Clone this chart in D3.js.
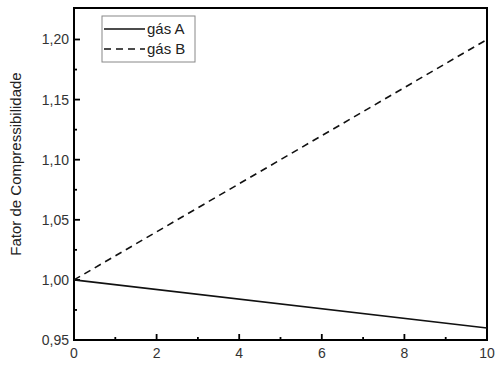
<!DOCTYPE html>
<html><head><meta charset="utf-8">
<script src="https://cdn.jsdelivr.net/npm/d3@7/dist/d3.min.js"></script>
<style>body{margin:0;background:#fff;} text{font-family:"Liberation Sans",Arial,sans-serif;}</style>
</head><body>
<script>
const xVals = [0, 10];
const gasA = [1.00, 0.96];
const gasB = [1.00, 1.20];
const seriesNames = ["gás A", "gás B"];
const xTicks = [0, 2, 4, 6, 8, 10];
const yTicks = [0.95, 1.00, 1.05, 1.10, 1.15, 1.20];
const yLabel = "Fator de Compressibilidade";

const W = 504, H = 367;
const L = 74, R = 487, T = 8, B = 340;
const svg = d3.select("body").append("svg").attr("width", W).attr("height", H);
const x = d3.scaleLinear().domain([0, 10]).range([L, R]);
const y = d3.scaleLinear().domain([0.95, 1.2262]).range([B, T]);
const fmt = d => d3.format(".2f")(d).replace(".", ",");

// minor ticks
const xMinor = d3.range(1, 10, 2);
const yMinor = d3.range(0, 5).map(i => 0.975 + i * 0.05);
const g = svg.append("g");
g.selectAll(".xmaj").data(xTicks).join("line")
  .attr("x1", d => x(d)).attr("x2", d => x(d)).attr("y1", B).attr("y2", B - 6)
  .attr("stroke", "#000").attr("stroke-width", 1.8);
g.selectAll(".xmin").data(xMinor).join("line")
  .attr("x1", d => x(d)).attr("x2", d => x(d)).attr("y1", B).attr("y2", B - 3)
  .attr("stroke", "#000").attr("stroke-width", 1.8);
g.selectAll(".ymaj").data(yTicks).join("line")
  .attr("x1", L).attr("x2", L + 6).attr("y1", d => y(d)).attr("y2", d => y(d))
  .attr("stroke", "#000").attr("stroke-width", 1.8);
g.selectAll(".ymin").data(yMinor).join("line")
  .attr("x1", L).attr("x2", L + 3).attr("y1", d => y(d)).attr("y2", d => y(d))
  .attr("stroke", "#000").attr("stroke-width", 1.8);

// frame
svg.append("rect").attr("x", L).attr("y", T).attr("width", R - L).attr("height", B - T)
  .attr("fill", "none").attr("stroke", "#000").attr("stroke-width", 2);

// tick labels
svg.selectAll(".xl").data(xTicks).join("text")
  .attr("x", d => x(d)).attr("y", B + 18).attr("text-anchor", "middle")
  .attr("font-size", 14).attr("fill", "#333").text(d => d);
svg.selectAll(".yl").data(yTicks).join("text")
  .attr("x", L - 5).attr("y", d => y(d) + 5).attr("text-anchor", "end")
  .attr("font-size", 14).attr("fill", "#333").text(fmt);

svg.append("text").attr("transform", `translate(21,${(T + B) / 2 - 10}) rotate(-90)`)
  .attr("text-anchor", "middle").attr("font-size", 15).attr("fill", "#222").text(yLabel);

const line = d3.line().x(d => x(d[0])).y(d => y(d[1]));
svg.append("path").datum(xVals.map((v, i) => [v, gasA[i]])).attr("d", line)
  .attr("fill", "none").attr("stroke", "#111").attr("stroke-width", 1.6);
svg.append("path").datum(xVals.map((v, i) => [v, gasB[i]])).attr("d", line)
  .attr("fill", "none").attr("stroke", "#111").attr("stroke-width", 1.6)
  .attr("stroke-dasharray", "7,5");

// legend
const lg = svg.append("g");
lg.append("rect").attr("x", 102).attr("y", 16).attr("width", 93).attr("height", 46)
  .attr("fill", "#fff").attr("stroke", "#888").attr("stroke-width", 1);
seriesNames.forEach((n, i) => {
  const yy = 29 + i * 20;
  lg.append("line").attr("x1", 104).attr("x2", 145).attr("y1", yy).attr("y2", yy)
    .attr("stroke", "#111").attr("stroke-width", 1.6)
    .attr("stroke-dasharray", i === 1 ? "7,5" : null);
  lg.append("text").attr("x", 147).attr("y", yy + 5).attr("font-size", 15)
    .attr("fill", "#222").text(n);
});
</script>
</body></html>
